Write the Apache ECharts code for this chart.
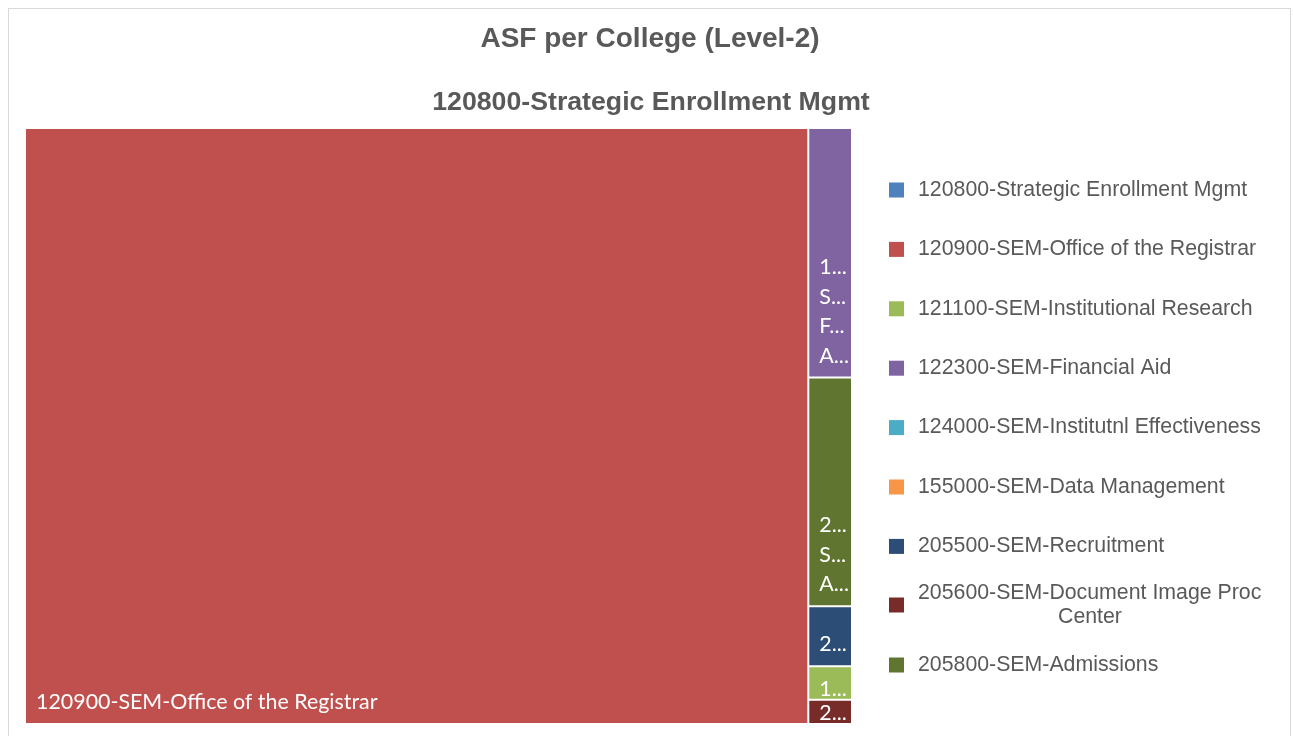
<!DOCTYPE html>
<html>
<head>
<meta charset="utf-8">
<script src="https://cdn.jsdelivr.net/npm/echarts@6/dist/echarts.min.js"></script>
<style>
  html, body { margin: 0; padding: 0; background: #ffffff; }
  #frame {
    position: absolute; left: 8px; top: 8px; width: 1283px; height: 740px;
    border: 1px solid #d9d9d9; box-sizing: border-box;
  }
  #chart { position: absolute; left: 0; top: 0; width: 1293px; height: 736px; }
</style>
</head>
<body>
<div id="frame"></div>
<div id="chart"></div>
<script>
// units (level-2) under the parent unit, in legend order
const parentName = "120800-Strategic Enrollment Mgmt";
const unitNames = [
  "120800-Strategic Enrollment Mgmt",
  "120900-SEM-Office of the Registrar",
  "121100-SEM-Institutional Research",
  "122300-SEM-Financial Aid",
  "124000-SEM-Institutnl Effectiveness",
  "155000-SEM-Data Management",
  "205500-SEM-Recruitment",
  "205600-SEM-Document Image Proc Center",
  "205800-SEM-Admissions"
];
// ASF values read from the rectangle areas (0 = not visible in the treemap)
const unitValues = [0, 462500, 1450, 10800, 0, 0, 2600, 1050, 9900];
const unitColors = [
  "#4f81bd", "#c0504d", "#9bbb59", "#8064a2", "#4bacc6",
  "#f79646", "#2c4d75", "#772c2a", "#5f7530"
];

const total = unitValues.reduce((a, b) => a + b, 0);

// treemap leaves (only units with a value); very small boxes get a tighter label
const treeData = [];
unitNames.forEach(function (name, i) {
  if (unitValues[i] > 0) {
    const item = {
      name: name,
      value: unitValues[i],
      itemStyle: { color: unitColors[i] }
    };
    if (unitValues[i] / total < 0.004) {
      item.label = { lineHeight: 20, padding: [0, 0, 0, 10] };
    }
    treeData.push(item);
  }
});

// invisible pie only used to feed the legend
const legendData = unitNames.map(function (name, i) {
  return { name: name, value: 0, itemStyle: { color: unitColors[i] } };
});

const textColor = "#595959";
const legendFont = "'Liberation Sans', Arial, sans-serif";
const legendSize = 21.3;

const legendBase = {
  orient: "vertical",
  left: 884,
  icon: "rect",
  itemWidth: 15,
  itemHeight: 15,
  selectedMode: false,
  textStyle: {
    color: textColor,
    fontSize: legendSize,
    fontFamily: legendFont,
    lineHeight: 24,
    padding: [0, 0, 0, 9]
  }
};

const chart = echarts.init(document.getElementById("chart"));

const option = {
  animation: false,
  title: [
    {
      text: "ASF per College (Level-2)",
      left: 645,
      textAlign: "center",
      top: 20,
      textStyle: { color: textColor, fontSize: 28, fontWeight: "bold", fontFamily: legendFont }
    },
    {
      text: parentName,
      left: 646,
      textAlign: "center",
      top: 84,
      textStyle: { color: textColor, fontSize: 26.7, fontWeight: "bold", fontFamily: legendFont }
    }
  ],
  legend: [
    Object.assign({}, legendBase, {
      top: 173,
      itemGap: 35.4,
      data: unitNames.slice(0, 7)
    }),
    Object.assign({}, legendBase, {
      top: 576,
      itemGap: 24,
      data: unitNames.slice(7),
      formatter: function (name) {
        if (name === "205600-SEM-Document Image Proc Center") {
          return "{a|205600-SEM-Document Image Proc}\n{b|Center}";
        }
        return "{a|" + name + "}";
      },
      textStyle: Object.assign({}, legendBase.textStyle, {
        rich: {
          a: { color: textColor, fontSize: legendSize, fontFamily: legendFont, lineHeight: 24 },
          b: { color: textColor, fontSize: legendSize, fontFamily: legendFont, lineHeight: 24, width: 344, align: "center" }
        }
      })
    })
  ],
  series: [
    {
      type: "treemap",
      left: 26,
      top: 129,
      width: 825,
      height: 594,
      roam: false,
      nodeClick: false,
      breadcrumb: { show: false },
      squareRatio: 1,
      label: {
        show: true,
        position: "insideBottomLeft",
        color: "#ffffff",
        fontSize: 21.4,
        fontFamily: "Lato, 'Open Sans', sans-serif",
        lineHeight: 29.5,
        padding: [0, 0, 6, 10],
        overflow: "truncate",
        ellipsis: "...",
        formatter: function (p) {
          // narrow boxes: one word per line, cut to its first character
          if (p.value / total < 0.05) {
            return p.name
              .replace(/-/g, "- ")
              .split(" ")
              .map(function (w) { return w.charAt(0) + "..."; })
              .join("\n");
          }
          return p.name;
        }
      },
      itemStyle: { borderWidth: 0, gapWidth: 2, borderColor: "#ffffff" },
      levels: [
        { itemStyle: { borderWidth: 0, gapWidth: 2, borderColor: "#ffffff" } }
      ],
      data: treeData
    },
    {
      type: "pie",
      radius: [0, 0],
      center: [-100, -100],
      silent: true,
      showEmptyCircle: false,
      label: { show: false },
      labelLine: { show: false },
      data: legendData
    }
  ]
};

chart.setOption(option);
</script>
</body>
</html>
